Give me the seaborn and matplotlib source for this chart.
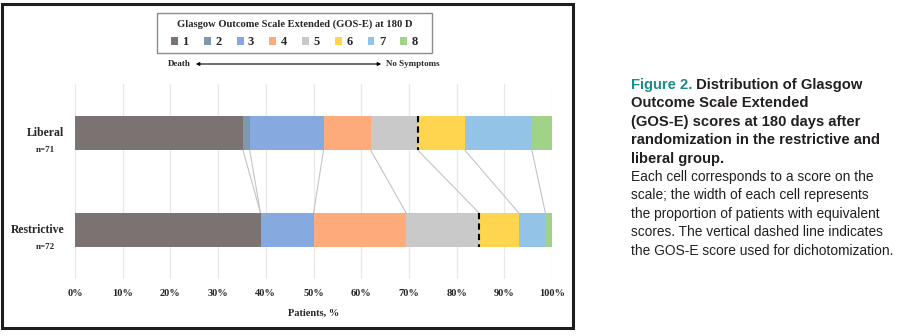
import numpy as np
import pandas as pd
import matplotlib
matplotlib.use("Agg")
import matplotlib.pyplot as plt
import seaborn as sns
from matplotlib.patches import Patch, Rectangle, FancyArrowPatch

# ---- data ----
groups = ["Liberal", "Restrictive"]
group_n = [71, 72]
scores = ["1", "2", "3", "4", "5", "6", "7", "8"]
liberal_counts = [25, 1, 11, 7, 7, 7, 10, 3]
restrictive_counts = [28, 0, 8, 14, 11, 6, 4, 1]
xticks = [0, 10, 20, 30, 40, 50, 60, 70, 80, 90, 100]
score_colors = ["#7a7372", "#7f98b2", "#86a9df", "#fdab7b",
                "#c9c9c9", "#fed54e", "#93c4e8", "#a0d388"]
dichotomy_score = 5

sns.set_style("white")
serif = ["Liberation Serif", "DejaVu Serif"]
sans = ["Liberation Sans", "DejaVu Sans"]
plt.rcParams["font.family"] = serif

W, H = 898, 336
fig = plt.figure(figsize=(W / 100, H / 100), dpi=100)

def fx(px):
    return px / W

def fy(py):
    return 1 - py / H

ax = fig.add_axes([fx(75), fy(279), fx(552) - fx(75), fy(84) - fy(279)])

counts = np.array([liberal_counts, restrictive_counts], dtype=float)
pct = counts / counts.sum(axis=1, keepdims=True) * 100
cum = np.cumsum(pct, axis=1)

rows = []
for gi, g in enumerate(groups):
    for si, s in enumerate(scores):
        rows.append({"group": g, "score": s, "cum": cum[gi, si]})
df = pd.DataFrame(rows)

bar_h = 0.35
for si in reversed(range(len(scores))):
    sub = df[df["score"] == scores[si]]
    sns.barplot(data=sub, x="cum", y="group", orient="h", color=score_colors[si],
                width=bar_h, linewidth=0, saturation=1, ax=ax, order=groups, zorder=3)

ax.set_xlim(0, 100)
ax.set_ylim(1.505, -0.505)

# gridlines
ax.set_xticks(xticks)
ax.xaxis.grid(True, color="#e8e8e8", linewidth=0.9, zorder=0)
ax.yaxis.grid(False)
ax.set_axisbelow(True)
for sp in ax.spines.values():
    sp.set_visible(False)
ax.tick_params(axis="both", length=0)
ax.set_xticklabels([f"{t}%" for t in xticks], fontsize=7.5, fontweight="bold")
ax.tick_params(axis="x", pad=7)
ax.set_yticks([])
ax.set_ylabel("")
ax.set_xlabel("Patients, %", fontsize=7.5, fontweight="bold", labelpad=8)

# connectors between bars
for k in range(len(scores) - 1):
    ax.plot([cum[0, k], cum[1, k]], [0 + bar_h / 2, 1 - bar_h / 2],
            color="#c4c4c4", linewidth=0.8, zorder=2)

# dashed dichotomization lines
for gi in range(2):
    xv = cum[gi, dichotomy_score - 1]
    ax.plot([xv, xv], [gi - bar_h / 2, gi + bar_h / 2], color="black",
            linewidth=1.5, linestyle=(0, (3, 2)), zorder=5)

# group labels
for gi, (g, n) in enumerate(zip(groups, group_n)):
    yc = 133 + gi * 97
    fig.text(fx(64), fy(yc), g, ha="right", va="center", fontsize=8.5,
             fontweight="bold", family=serif)
    fig.text(fx(55), fy(yc + 17), f"n={n}", ha="right", va="center", fontsize=6.5,
             fontweight="bold", family=serif)

# legend
handles = [Patch(facecolor=c, edgecolor="none", label=s) for c, s in zip(score_colors, scores)]
leg = fig.legend(handles=handles, ncol=8, loc="center",
                 bbox_to_anchor=(fx(294.5), fy(34)), frameon=False,
                 title="Glasgow Outcome Scale Extended (GOS-E) at 180 D",
                 prop={"family": serif, "weight": "bold", "size": 9},
                 title_fontproperties={"family": serif, "weight": "bold", "size": 7.6},
                 handlelength=0.55, handleheight=0.55, handletextpad=0.35,
                 columnspacing=1.22, borderpad=0.2, labelspacing=0.55)
fig.add_artist(Rectangle((fx(157), fy(53)), fx(432) - fx(157), fy(13) - fy(53),
                         transform=fig.transFigure, fill=False,
                         edgecolor="#8c8c8c", linewidth=1.0))

# death <-> no symptoms
fig.text(fx(191), fy(64), "Death", ha="right", va="center", fontsize=6.5,
         fontweight="bold", family=serif)
fig.text(fx(386), fy(64), "No Symptoms", ha="left", va="center", fontsize=6.5,
         fontweight="bold", family=serif)
fig.add_artist(FancyArrowPatch(
    (fx(193), fy(64)), (fx(384), fy(64)), transform=fig.transFigure,
    arrowstyle="<|-|>", mutation_scale=5, linewidth=0.8, color="black"))

# frame
fig.add_artist(Rectangle((fx(2), fy(328)), fx(573) - fx(2), fy(4) - fy(328),
                         transform=fig.transFigure, fill=False,
                         edgecolor="#1e1e1e", linewidth=2.2))

# caption
teal = "#1c8b8c"
dark = "#231f20"
cap_x = 631
bold_size = 10.6
reg_size = 9.95
bold_lines = ["Outcome Scale Extended", "(GOS-E) scores at 180 days after",
              "randomization in the restrictive and", "liberal group."]
reg_lines = ["Each cell corresponds to a score on the",
             "scale; the width of each cell represents",
             "the proportion of patients with equivalent",
             "scores. The vertical dashed line indicates",
             "the GOS-E score used for dichotomization."]
line_step = 18.4
y0 = 85
t1 = fig.text(fx(cap_x), fy(y0), "Figure 2.", ha="left", va="center",
              fontsize=bold_size, fontweight="bold", color=teal, family=sans)
fig.canvas.draw()
bb = t1.get_window_extent(renderer=fig.canvas.get_renderer())
fig.text(bb.x1 / W, fy(y0), " Distribution of Glasgow", ha="left", va="center",
         fontsize=bold_size, fontweight="bold", color=dark, family=sans)
for i, ln in enumerate(bold_lines):
    fig.text(fx(cap_x), fy(y0 + (i + 1) * line_step), ln, ha="left", va="center",
             fontsize=bold_size, fontweight="bold", color=dark, family=sans)
for i, ln in enumerate(reg_lines):
    fig.text(fx(cap_x), fy(y0 + (i + 5) * line_step), ln, ha="left", va="center",
             fontsize=reg_size, color=dark, family=sans)

fig.savefig("out.png", dpi=100, facecolor="white")
